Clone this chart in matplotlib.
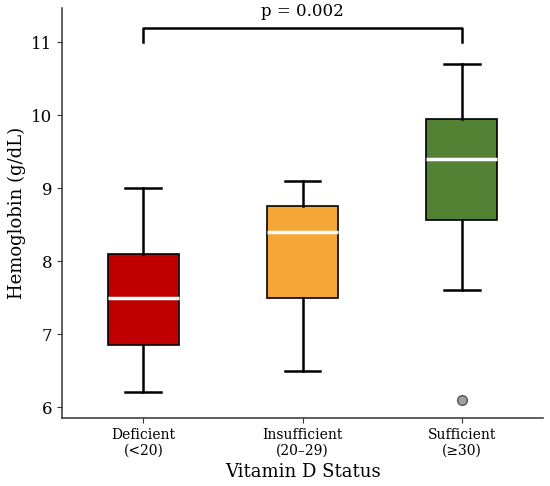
import matplotlib
matplotlib.use('agg')
import matplotlib.pyplot as plt
import numpy as np

plt.rcParams['font.family'] = ['DejaVu Serif']

categories = ['Deficient\n(<20)', 'Insufficient\n(20–29)', 'Sufficient\n(≥30)']
whislo = [6.2, 6.5, 7.6]
q1 = [6.85, 7.5, 8.57]
med = [7.5, 8.4, 9.4]
q3 = [8.1, 8.75, 9.95]
whishi = [9.0, 9.1, 10.7]
fliers = [[], [], [6.1]]
colors = ['#C00000', '#F4A637', '#548235']
p_text = 'p = 0.002'

stats = []
for i in range(len(categories)):
    stats.append({'whislo': whislo[i], 'q1': q1[i], 'med': med[i], 'q3': q3[i],
                  'whishi': whishi[i], 'fliers': fliers[i], 'label': categories[i]})

fig = plt.figure(figsize=(5.5, 4.86), dpi=100)
ax = fig.add_axes([0.113, 0.14, 0.874, 0.8435])

bp = ax.bxp(stats, positions=[0, 1, 2], widths=0.45, patch_artist=True,
            boxprops=dict(edgecolor='black', linewidth=1.2),
            whiskerprops=dict(color='black', linewidth=1.8),
            capprops=dict(color='black', linewidth=1.8),
            medianprops=dict(color='white', linewidth=2.5),
            flierprops=dict(marker='o', markerfacecolor='#a0a0a0',
                            markeredgecolor='#555555', markersize=7))
for patch, c in zip(bp['boxes'], colors):
    patch.set_facecolor(c)

# bracket
ax.plot([0, 0, 2, 2], [11.0, 11.2, 11.2, 11.0], color='black', linewidth=1.8)
ax.text(1, 11.3, p_text, ha='center', va='bottom', fontsize=12)

ax.set_xlim(-0.51, 2.51)
ax.set_ylim(5.85, 11.47)
ax.set_yticks([6, 7, 8, 9, 10, 11])
ax.tick_params(axis='y', labelsize=12, color='#333333')
ax.tick_params(axis='x', labelsize=10, color='#333333')
ax.set_xlabel('Vitamin D Status', fontsize=13)
ax.set_ylabel('Hemoglobin (g/dL)', fontsize=13)
ax.spines['top'].set_visible(False)
ax.spines['right'].set_visible(False)
for s in ['left', 'bottom']:
    ax.spines[s].set_color('#333333')
    ax.spines[s].set_linewidth(1.1)

fig.savefig('out.png', dpi=100)
